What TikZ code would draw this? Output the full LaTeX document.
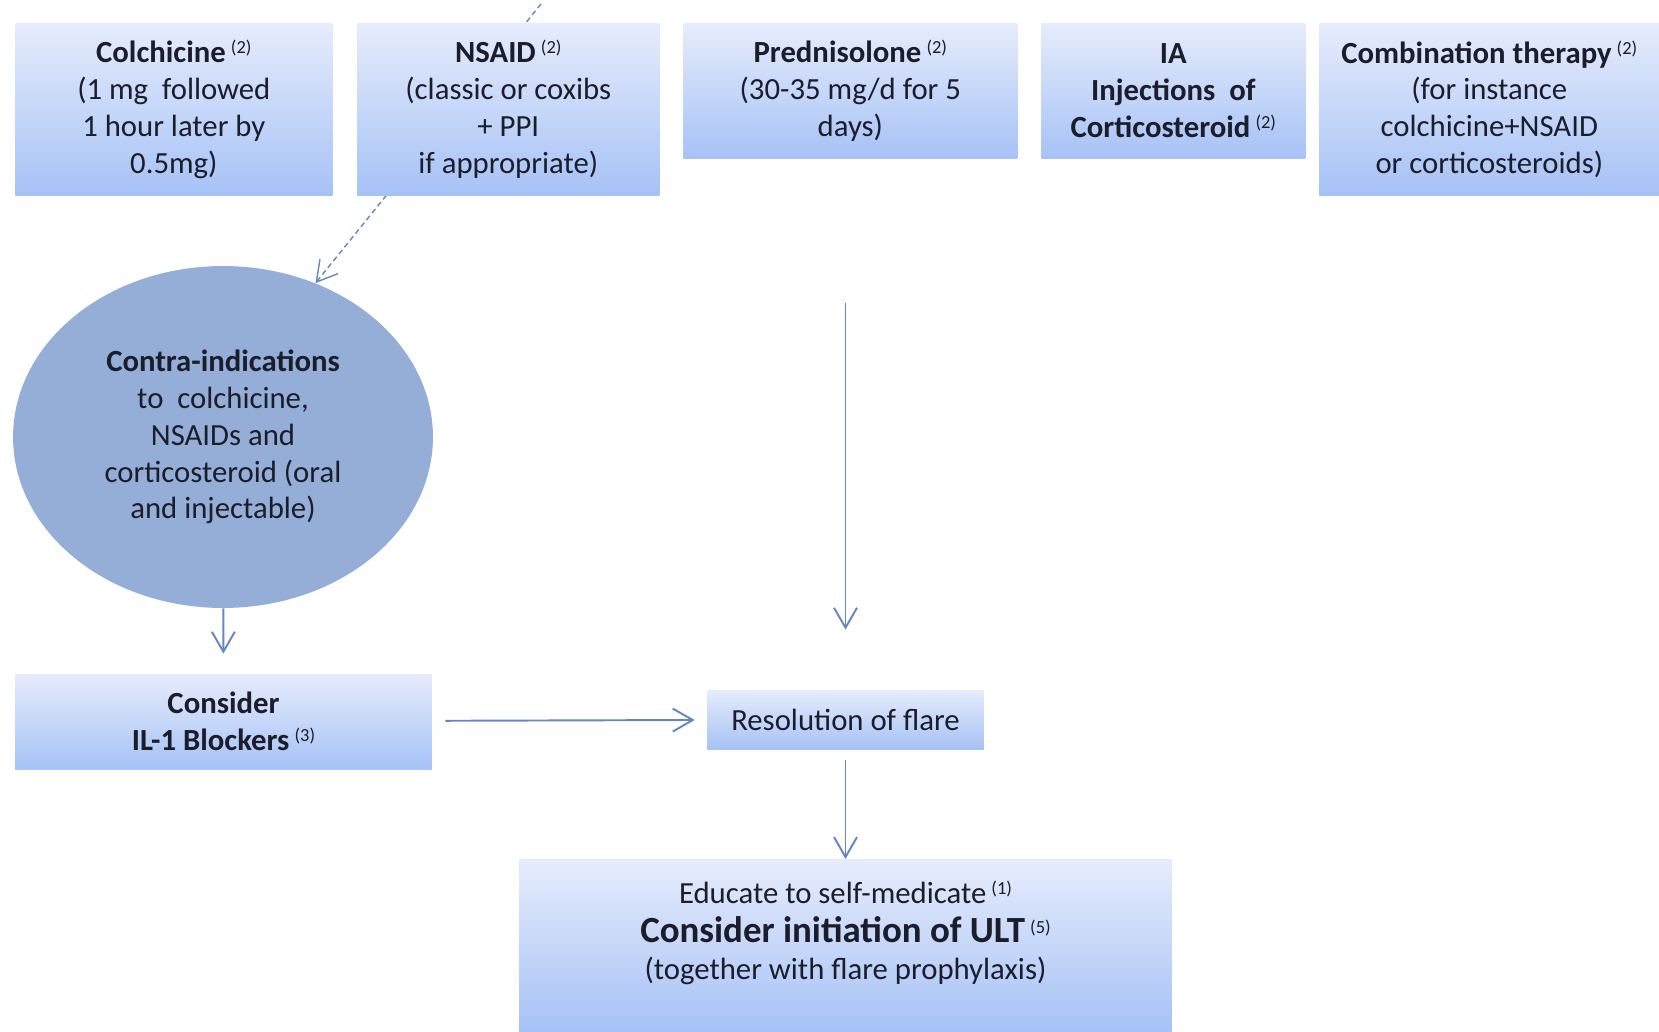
\documentclass[tikz,border=0pt]{standalone}
\usepackage{fontspec}
\setmainfont{Carlito}
\usetikzlibrary{shapes.geometric,arrows.meta,backgrounds}

\definecolor{boxtop}{HTML}{E6ECFC}
\definecolor{boxbot}{HTML}{A6C2F6}
\definecolor{ovalfill}{HTML}{94AED7}
\definecolor{linkcol}{HTML}{6686C0}
\definecolor{inkcol}{HTML}{1B1D2B}

\newcommand\refno[1]{\,\raisebox{0.6ex}{\mdseries\fontsize{10.5}{11}\selectfont(#1)}}

\begin{document}
\begin{tikzpicture}[
            x=0.02cm, y=-0.02cm,
            font=\fontsize{17.5}{21}\selectfont, text=inkcol,
            >={Straight Barb[length=0.4cm,width=0.46cm]},
            block/.style={rectangle, draw=none, top color=boxtop,
                            bottom color=boxbot, align=center, inner sep=2pt},
            oval/.style={ellipse, fill=ovalfill, align=center, inner sep=0pt},
            link/.style={draw=linkcol, line width=1.1pt}
        ]
            \useasboundingbox (0,0) rectangle (1659,1031);

            % first-line treatments
            \node[block, anchor=north west, minimum width=6.34cm, minimum height=3.44cm]
                (colch) at (15,23) {\textbf{Colchicine}\refno{2}\\(1 mg~ followed\\1 hour later by\\0.5mg)};
            \node[block, anchor=north west, minimum width=6.04cm, minimum height=3.44cm]
                (nsaid) at (357,23) {\textbf{NSAID}\refno{2}\\(classic or coxibs\\+ PPI\\if appropriate)};
            \node[block, anchor=north west, minimum width=6.68cm, minimum height=2.7cm]
                (pred) at (683,23) {\textbf{Prednisolone}\refno{2}\\(30-35 mg/d for 5\\days)};
            \node[block, anchor=north west, minimum width=5.28cm, minimum height=2.7cm]
                (ia) at (1041,23) {\textbf{IA}\\\textbf{Injections~ of}\\\textbf{Corticosteroid}\refno{2}};
            \node[block, anchor=north west, minimum width=6.8cm, minimum height=3.44cm]
                (combi) at (1319,23) {\textbf{Combination therapy}\refno{2}\\(for instance\\colchicine+NSAID\\or corticosteroids)};

            \node[oval, minimum width=8.4cm, minimum height=6.84cm] (contra) at (223,437)
                {\textbf{Contra-indications}\\to~ colchicine,\\NSAIDs and\\corticosteroid (oral\\and injectable)};

            \node[block, minimum width=8.34cm, minimum height=1.9cm] (il1) at (223.5,721.5)
                {\textbf{Consider}\\\textbf{IL-1 Blockers}\refno{3}};
            \node[block, minimum width=5.54cm, minimum height=1.18cm] (resol) at (845.5,719.5)
                {Resolution of flare};
            \node[block, anchor=north, minimum width=13.06cm, minimum height=3.44cm] (ult) at (845.5,859)
                {Educate to self-medicate\refno{1}\\[1pt]
                 {\fontsize{21}{24}\selectfont\bfseries Consider initiation of ULT}\refno{5}\\
                 (together with flare prophylaxis)\rule[-0.6cm]{0pt}{0.6cm}};

            \coordinate (top) at (541,4);

            \begin{scope}[on background layer]
                \draw[link, line width=0.8pt, dash pattern=on 3pt off 2pt, ->] (top) -- (contra.59);
            \end{scope}

            \draw[link, ->, shorten >=0.4cm] (contra) -- (il1);
            \draw[link, ->, shorten <=0.26cm, shorten >=0.24cm] (il1) -- (resol);
            \draw[link, ->, shorten <=2.88cm, shorten >=1.2cm] (resol |- pred.south) -- (resol);
            \draw[link, ->, shorten <=0.22cm] (resol) -- (ult);

        \end{tikzpicture}
\end{document}
